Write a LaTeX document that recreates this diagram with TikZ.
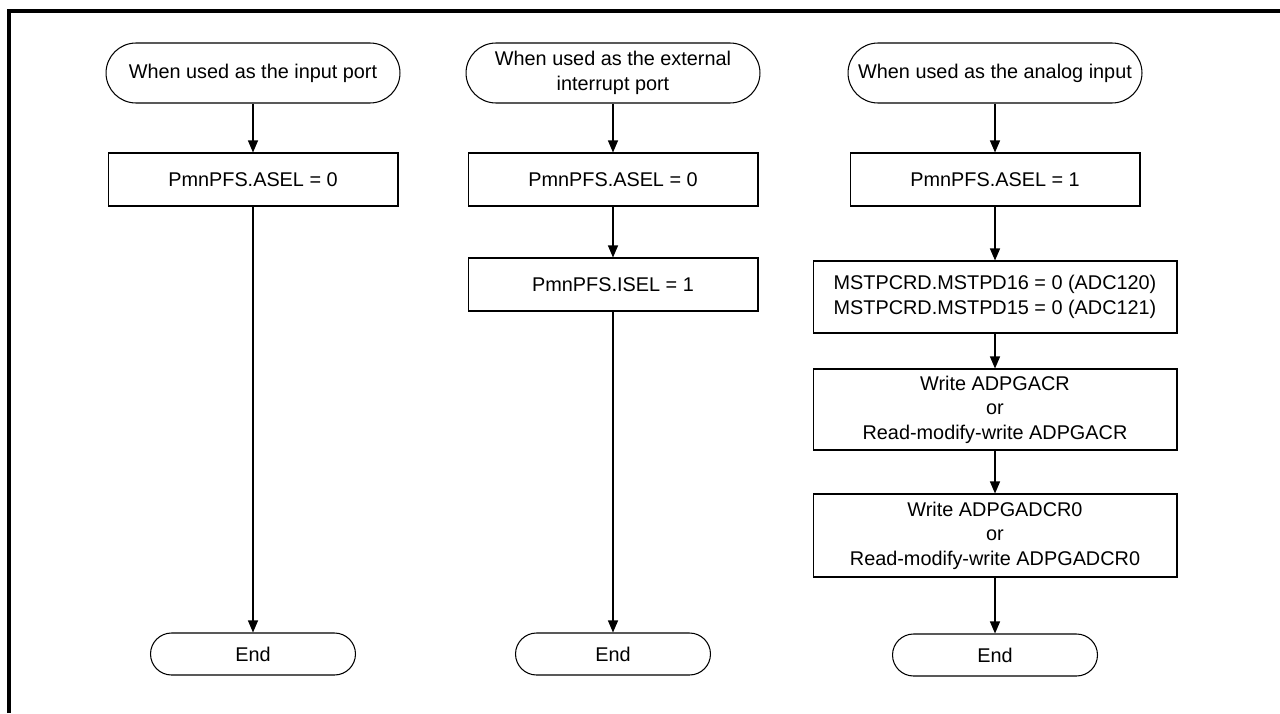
\documentclass[tikz,border=0pt]{standalone}
\usepackage{fontspec}
\setmainfont{Liberation Sans}
\usetikzlibrary{arrows.meta}

\begin{document}
\begin{tikzpicture}[
	x=0.02cm, y=-0.02cm,
	every node/.style={font=\fontsize{11.3}{13.9}\selectfont, align=center, inner sep=0pt},
	term/.style={draw, line width=0.6pt, rounded corners=0.6cm, minimum width=5.88cm, minimum height=1.2cm},
	endterm/.style={draw, line width=0.6pt, rounded corners=0.42cm, minimum width=4.1cm, minimum height=0.84cm},
	proc/.style={draw, line width=0.6pt, minimum width=5.8cm, minimum height=1.06cm},
	wideproc/.style={proc, minimum width=7.28cm},
	flow/.style={-{Triangle[length=0.24cm, width=0.2cm]}, line width=0.6pt}
	]
	\useasboundingbox (0,0) rectangle (1280,713);
	
	% Frame
	\draw[line width=2pt] (9,713) -- (9,11) -- (1280,11);
	
	% Input port
	\node[term] (inStart) at (253,73) {When used as the input port};
	\node[proc] (inAsel) at (253,179.5) {PmnPFS.ASEL = 0};
	\node[endterm] (inEnd) at (253,654) {End};
	
	% External interrupt port
	\node[term] (irqStart) at (613,73) {When used as the external\\interrupt port};
	\node[proc] (irqAsel) at (613,179.5) {PmnPFS.ASEL = 0};
	\node[proc] (irqIsel) at (613,284.5) {PmnPFS.ISEL = 1};
	\node[endterm, minimum width=3.9cm] (irqEnd) at (613,654) {End};
	
	% Analog input
	\node[term] (anStart) at (995,73) {When used as the analog input};
	\node[proc] (anAsel) at (995,179.5) {PmnPFS.ASEL = 1};
	\node[wideproc, minimum height=1.44cm] (anMstp) at (995,297) {MSTPCRD.MSTPD16 = 0 (ADC120)\\MSTPCRD.MSTPD15 = 0 (ADC121)};
	\node[wideproc, minimum height=1.62cm] (anGacr) at (995,409.5) {Write ADPGACR\\or\\Read-modify-write ADPGACR};
	\node[wideproc, minimum height=1.66cm] (anGadcr) at (995,535.5) {Write ADPGADCR0\\or\\Read-modify-write ADPGADCR0};
	\node[endterm] (anEnd) at (995,655) {End};
	
	% Connectors
	\draw[flow] (inStart) -- (inAsel);
	\draw[flow] (inAsel) -- (inEnd);
	\draw[flow] (irqStart) -- (irqAsel);
	\draw[flow] (irqAsel) -- (irqIsel);
	\draw[flow] (irqIsel) -- (irqEnd);
	\draw[flow] (anStart) -- (anAsel);
	\draw[flow] (anAsel) -- (anMstp);
	\draw[flow] (anMstp) -- (anGacr);
	\draw[flow] (anGacr) -- (anGadcr);
	\draw[flow] (anGadcr) -- (anEnd);
\end{tikzpicture}
\end{document}
